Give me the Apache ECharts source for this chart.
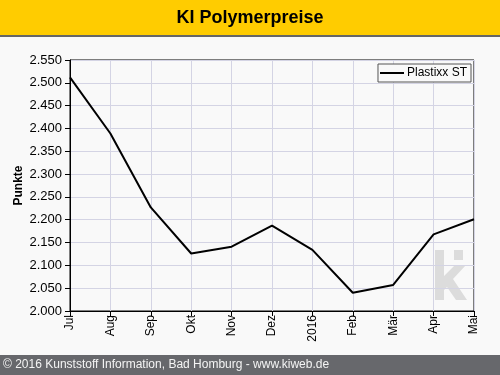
<!DOCTYPE html>
<html>
<head>
<meta charset="utf-8">
<script src="https://cdn.jsdelivr.net/npm/echarts@6/dist/echarts.min.js"></script>
<style>
html,body{margin:0;padding:0;background:#f9f9f9;}
#c{width:500px;height:375px;}
</style>
</head>
<body>
<div id="c"></div>
<script>
var categories = ['Jul','Aug','Sep','Okt','Nov','Dez','2016','Feb','Mär','Apr','Mai'];
var plastixxST = [2.512, 2.389, 2.227, 2.126, 2.141, 2.187, 2.134, 2.040, 2.057, 2.168, 2.201];
var seriesName = 'Plastixx ST';
var yMin = 2.0, yMax = 2.55, yStep = 0.05;

var chart = echarts.init(document.getElementById('c'), null, {renderer:'canvas'});
var font = 'Arial, "Liberation Sans", sans-serif';
chart.setOption({
  backgroundColor: '#f9f9f9',
  animation: false,
  textStyle: {fontFamily: font},
  graphic: [
    {type:'rect', shape:{x:0,y:0,width:500,height:35}, style:{fill:'#ffcc00'}, z:-1},
    {type:'rect', shape:{x:0,y:35,width:500,height:2}, style:{fill:'#666666'}, z:-1},
    {type:'text', x:250, y:18, style:{text:'KI Polymerpreise', font:'bold 18px ' + font, fill:'#000', align:'center', verticalAlign:'middle'}},
    {type:'rect', shape:{x:0,y:355,width:500,height:20}, style:{fill:'#67686c'}, z:-1},
    {type:'text', x:3, y:365, style:{text:'© 2016 Kunststoff Information, Bad Homburg - www.kiweb.de', font:'12px ' + font, fill:'#f4f4f4', align:'left', verticalAlign:'middle'}},
    // watermark
    {type:'rect', shape:{x:435,y:250,width:9,height:50}, style:{fill:'#dcdcdc'}, z:0},
    {type:'rect', shape:{x:454,y:250,width:9,height:10}, style:{fill:'#dcdcdc'}, z:0},
    {type:'polygon', shape:{points:[[444,276],[455,265],[466,265],[453,279],[467,300],[456,300],[447,287],[444,290]]}, style:{fill:'#dcdcdc'}, z:0}
  ],
  grid: {left:70, right:26, top:60, bottom:64, show:true, borderColor:'#000', borderWidth:1, backgroundColor:'transparent'},
  legend: {
    show:true, right:29, top:64, orient:'vertical',
    backgroundColor:'#f9f9f9', borderColor:'#555', borderWidth:1, padding:[3,4,3,2],
    itemWidth:24, itemHeight:2, itemGap:0,
    icon:'rect',
    textStyle:{fontSize:12, color:'#000', fontFamily:font, padding:[0,0,0,-2]},
    data:[{name:seriesName, icon:'rect'}]
  },
  xAxis: {
    type:'category', data:categories, boundaryGap:false,
    axisLine:{lineStyle:{color:'#000', width:1}},
    axisTick:{show:true, length:5, lineStyle:{color:'#000'}, alignWithLabel:true},
    axisLabel:{rotate:90, fontSize:12, color:'#000', margin:4, fontFamily:font},
    splitLine:{show:true, lineStyle:{color:'#d4d4e4', width:1}}
  },
  yAxis: {
    type:'value', min:yMin, max:yMax, interval:yStep,
    name:'Punkte', nameLocation:'middle', nameGap:45, nameRotate:90, nameMoveOverlap:false,
    nameTextStyle:{fontSize:12, fontWeight:'bold', color:'#000', fontFamily:font},
    axisLine:{show:true, lineStyle:{color:'#000', width:1}},
    axisTick:{show:true, length:5, lineStyle:{color:'#000'}},
    axisLabel:{fontSize:13, color:'#000', margin:8, fontFamily:font, formatter:function(v){return v.toFixed(3);}},
    splitLine:{show:true, lineStyle:{color:'#d4d4e4', width:1}}
  },
  series: [{
    name:seriesName, type:'line', data:plastixxST, showSymbol:false, symbol:'none',
    lineStyle:{color:'#000', width:2}, itemStyle:{color:'#000'}, z:5
  }]
});
</script>
</body>
</html>
